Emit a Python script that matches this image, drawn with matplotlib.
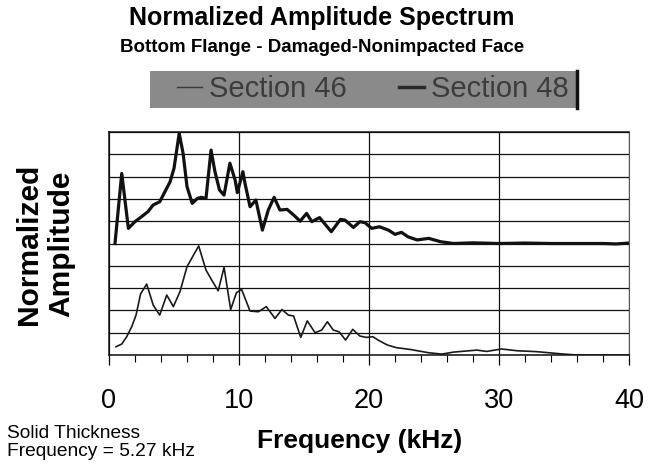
import numpy as np
import matplotlib
matplotlib.use('Agg')
import matplotlib.pyplot as plt
from matplotlib.lines import Line2D
from matplotlib.patches import Rectangle

plt.rcParams['font.family'] = ['Liberation Sans', 'DejaVu Sans']

# Section 48 (upper trace, drawn with offset of 5 grid units)
freq_48 = [0.46, 0.98, 1.49, 2.0, 2.5, 3.0, 3.4, 3.9, 4.3, 4.7, 5.0, 5.4, 5.7, 6.0, 6.4,
           6.8, 7.1, 7.46, 7.85, 8.15, 8.5, 8.85, 9.3, 9.7, 9.87, 10.3, 10.46, 10.85,
           11.3, 11.8, 12.25, 12.7, 13.15, 13.7, 14.2, 14.7, 15.2, 15.6, 16.2, 17.1,
           17.8, 18.15, 18.8, 19.3, 19.7, 20.2, 20.8, 21.5, 22.0, 22.5, 23.0, 23.7,
           24.6, 25.5, 26.5, 28.0, 30.0, 32.0, 34.0, 36.0, 38.0, 39.0, 40.0]
amp_48 = [0.0, 3.14, 0.68, 0.98, 1.2, 1.43, 1.73, 1.87, 2.32, 2.77, 3.37, 4.94, 4.04, 2.55,
          1.8, 2.02, 2.07, 2.02, 4.19, 3.22, 2.4, 2.17, 3.6, 2.85, 2.28, 3.22, 2.7, 1.65,
          1.95, 0.6, 1.5, 2.07, 1.5, 1.53, 1.28, 1.0, 1.35, 0.98, 1.16, 0.53, 1.08, 1.05,
          0.72, 0.98, 0.93, 0.68, 0.75, 0.6, 0.41, 0.5, 0.3, 0.16, 0.23, 0.08, 0.0, 0.03,
          0.0, 0.02, 0.0, 0.0, 0.0, -0.02, 0.02]

# Section 46 (lower trace)
freq_46 = [0.54, 0.98, 1.36, 1.75, 2.08, 2.43, 2.9, 3.4, 3.9, 4.44, 4.95, 5.46, 6.0, 6.5,
           6.9, 7.46, 7.9, 8.4, 8.85, 9.36, 9.8, 10.2, 10.85, 11.5, 12.1, 12.77, 13.3,
           13.8, 14.2, 14.75, 15.25, 15.85, 16.36, 16.8, 17.25, 17.7, 18.2, 18.75, 19.3,
           19.8, 20.3, 20.7, 21.4, 22.1, 23.15, 24.6, 25.6, 26.5, 28.3, 29.05, 30.2,
           31.4, 32.9, 35.0, 36.0, 38.0, 40.0]
amp_46 = [0.37, 0.49, 0.82, 1.27, 1.79, 2.74, 3.18, 2.24, 1.79, 2.69, 2.17, 2.84, 3.96,
          4.48, 4.89, 3.81, 3.36, 2.88, 3.93, 2.04, 2.79, 2.94, 1.97, 1.94, 2.17, 1.64,
          2.04, 1.79, 1.75, 0.79, 1.53, 1.0, 1.12, 1.49, 1.12, 1.04, 0.67, 1.15, 0.85,
          0.79, 0.82, 0.67, 0.45, 0.33, 0.25, 0.1, 0.04, 0.13, 0.22, 0.16, 0.27, 0.19,
          0.15, 0.04, 0.0, 0.0, 0.0]

labels = ['Section 46', 'Section 48']
x_ticks = [0, 10, 20, 30, 40]
offset_48 = 5.0

W, H = 651, 468
fig = plt.figure(figsize=(W / 100, H / 100), dpi=100)
ax = fig.add_axes([109 / W, 1 - 355 / H, 520 / W, 223 / H])

ax.plot(freq_46, amp_46, color='#1a1a1a', lw=1.2, solid_joinstyle='round')
ax.plot(freq_48, np.array(amp_48) + offset_48, color='#111111', lw=2.3,
        solid_joinstyle='round')

ax.set_xlim(0, 40)
ax.set_ylim(0, 10)
ax.set_yticks(np.arange(0, 11, 1))
ax.set_yticklabels([])
ax.tick_params(axis='y', length=0)
ax.set_xticks(x_ticks)
ax.set_xticks(np.arange(0, 41, 2), minor=True)
ax.tick_params(axis='x', which='major', direction='out', length=7, width=0.9,
               labelsize=19.5, pad=17)
ax.tick_params(axis='x', which='minor', direction='out', length=5, width=0.8)
ax.grid(True, axis='both', which='major', color='#111111', lw=0.9)
for s in ['left', 'bottom', 'top']:
    ax.spines[s].set_color('#111111')
    ax.spines[s].set_linewidth(1.1)
ax.spines['right'].set_color('#555555')
ax.spines['right'].set_linewidth(0.8)

# titles and labels
fig.text(322 / W, 1 - 18 / H, 'Normalized Amplitude Spectrum', ha='center', va='center',
         fontsize=18, fontweight='bold')
fig.text(322 / W, 1 - 48 / H, 'Bottom Flange - Damaged-Nonimpacted Face', ha='center',
         va='center', fontsize=13.5, fontweight='bold')
fig.text(45 / W, 1 - 244 / H, 'Normalized\nAmplitude', rotation=90, ha='center',
         va='center', multialignment='center', fontsize=21.5, fontweight='bold',
         linespacing=1.2)
fig.text(360 / W, 1 - 441 / H, 'Frequency (kHz)', ha='center', va='center',
         fontsize=19, fontweight='bold')
fig.text(7 / W, 1 - 425 / H, 'Solid Thickness\nFrequency = 5.27 kHz', ha='left',
         va='top', fontsize=13.8, linespacing=1.1)

# legend box
fig.patches.append(Rectangle((150 / W, 1 - 108 / H), 427 / W, 37 / H,
                             transform=fig.transFigure, facecolor='#8a8a8a',
                             edgecolor='none', zorder=0))
fig.lines.append(Line2D([577 / W, 577 / W], [1 - 108 / H, 1 - 71 / H],
                        transform=fig.transFigure, color='#111111', lw=2.5))
handles = [Line2D([], [], color='#3a3a3a', lw=1.0),
           Line2D([], [], color='#2a2a2a', lw=2.5)]
leg = fig.legend(handles, labels, loc='center', bbox_to_anchor=(373 / W, 1 - 89 / H),
                 ncol=2, frameon=False, fontsize=21, handlelength=0.85,
                 handletextpad=0.25, columnspacing=1.8, borderpad=0.1)
for t in leg.get_texts():
    t.set_color('#3c3c3c')

fig.savefig('out.png', dpi=100)
